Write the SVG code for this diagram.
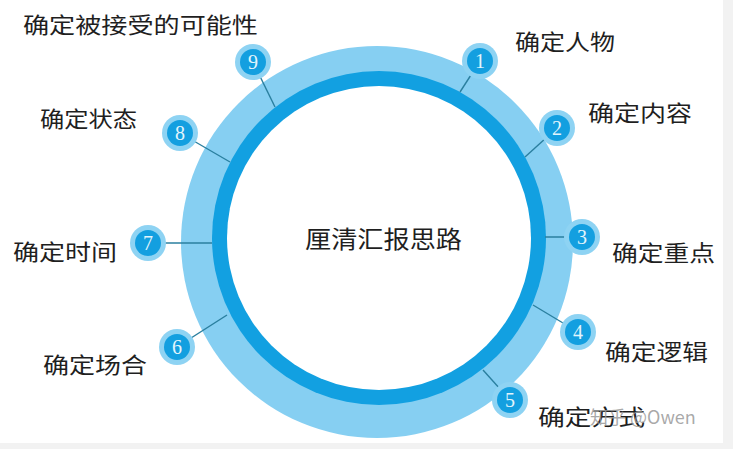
<svg xmlns="http://www.w3.org/2000/svg" width="733" height="449" viewBox="0 0 733 449">
<style>
.lbl{font-family:"Noto Sans CJK SC","Noto Sans",sans-serif;font-size:22px;fill:#1f1f1f;}
.ctr{font-family:"Noto Sans CJK SC","Noto Sans",sans-serif;font-size:24px;fill:#1f1f1f;}
.halo{fill:#8ed3f3;}
.dot{fill:#139fe0;}
.num{font-family:"Liberation Serif",serif;font-size:20px;fill:#e3f5fc;text-anchor:middle;}
.con{stroke:#2a7f9f;stroke-width:1.4;fill:none;}
.wm{font-family:"Noto Sans CJK SC","Liberation Sans",sans-serif;font-size:18px;fill:#9a9a9a;fill-opacity:0.85;}
</style>
<rect x="0" y="0" width="733" height="449" fill="#ffffff"/>
<rect x="723" y="0" width="10" height="449" fill="#f2f2f2"/>
<rect x="0" y="443" width="733" height="6" fill="#f2f2f2"/>
<g id="ring">
<circle cx="377" cy="242" r="196" fill="#86cff2"/>
<circle cx="379" cy="238" r="167" fill="#12a0e1"/>
<circle cx="379" cy="238" r="152" fill="#ffffff"/>
</g>
<g id="connectors">
<line class="con" x1="480" y1="61" x2="460" y2="92"/>
<line class="con" x1="557" y1="128" x2="525" y2="157"/>
<line class="con" x1="582" y1="237" x2="545" y2="237"/>
<line class="con" x1="578" y1="332" x2="533" y2="305"/>
<line class="con" x1="510" y1="400" x2="483" y2="370"/>
<line class="con" x1="177" y1="347" x2="227" y2="315"/>
<line class="con" x1="148" y1="243" x2="212" y2="243"/>
<line class="con" x1="180" y1="133" x2="230" y2="162"/>
<line class="con" x1="253" y1="62" x2="275" y2="107"/>
</g>
<g id="center">
<text class="ctr" x="305" y="248" textLength="157" lengthAdjust="spacingAndGlyphs">厘清汇报思路</text>
</g>
<g id="node1">
<circle class="halo" cx="480" cy="61" r="18"/><circle class="dot" cx="480" cy="61" r="13"/>
<text class="num" x="480" y="68">1</text>
<text class="lbl" x="515" y="50" textLength="100" lengthAdjust="spacingAndGlyphs">确定人物</text>
</g>
<g id="node2">
<circle class="halo" cx="557" cy="128" r="18"/><circle class="dot" cx="557" cy="128" r="13"/>
<text class="num" x="557" y="135">2</text>
<text class="lbl" x="588" y="121" textLength="104" lengthAdjust="spacingAndGlyphs">确定内容</text>
</g>
<g id="node3">
<circle class="halo" cx="582" cy="237" r="18"/><circle class="dot" cx="582" cy="237" r="13"/>
<text class="num" x="582" y="244">3</text>
<text class="lbl" x="612" y="261" textLength="103" lengthAdjust="spacingAndGlyphs">确定重点</text>
</g>
<g id="node4">
<circle class="halo" cx="578" cy="332" r="18"/><circle class="dot" cx="578" cy="332" r="13"/>
<text class="num" x="578" y="339">4</text>
<text class="lbl" x="605" y="360" textLength="103" lengthAdjust="spacingAndGlyphs">确定逻辑</text>
</g>
<g id="node5">
<circle class="halo" cx="510" cy="400" r="18"/><circle class="dot" cx="510" cy="400" r="13"/>
<text class="num" x="510" y="407">5</text>
<text class="lbl" x="538" y="425" textLength="107" lengthAdjust="spacingAndGlyphs">确定方式</text>
</g>
<g id="node6">
<circle class="halo" cx="177" cy="347" r="18"/><circle class="dot" cx="177" cy="347" r="13"/>
<text class="num" x="177" y="354">6</text>
<text class="lbl" x="43" y="373" textLength="104" lengthAdjust="spacingAndGlyphs">确定场合</text>
</g>
<g id="node7">
<circle class="halo" cx="148" cy="243" r="18"/><circle class="dot" cx="148" cy="243" r="13"/>
<text class="num" x="148" y="250">7</text>
<text class="lbl" x="13" y="260" textLength="104" lengthAdjust="spacingAndGlyphs">确定时间</text>
</g>
<g id="node8">
<circle class="halo" cx="180" cy="133" r="18"/><circle class="dot" cx="180" cy="133" r="13"/>
<text class="num" x="180" y="140">8</text>
<text class="lbl" x="40" y="127" textLength="97" lengthAdjust="spacingAndGlyphs">确定状态</text>
</g>
<g id="node9">
<circle class="halo" cx="253" cy="62" r="18"/><circle class="dot" cx="253" cy="62" r="13"/>
<text class="num" x="253" y="69">9</text>
<text class="lbl" x="23" y="33" textLength="235" lengthAdjust="spacingAndGlyphs">确定被接受的可能性</text>
</g>
<g id="watermark">
<text class="wm" x="590" y="424">知乎 @Owen</text>
</g>
</svg>
